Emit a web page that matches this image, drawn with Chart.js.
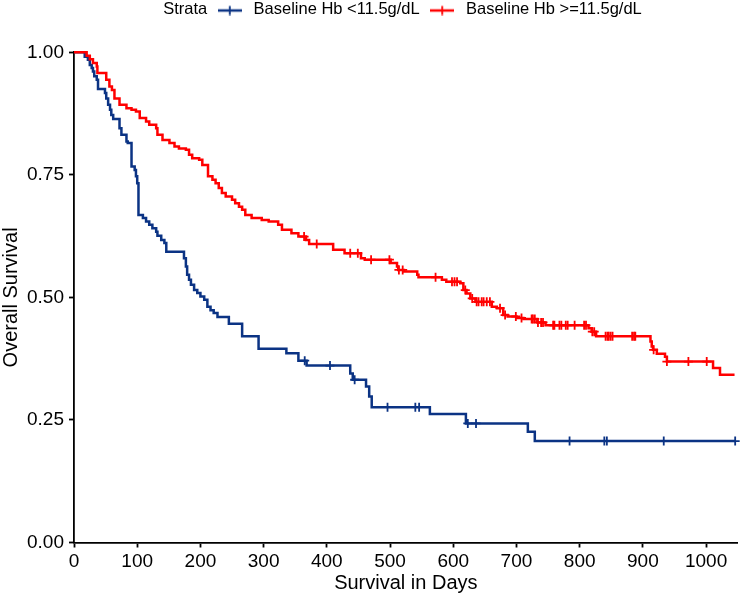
<!DOCTYPE html>
<html><head><meta charset="utf-8">
<script src="https://cdn.jsdelivr.net/npm/chart.js@4.4.1/dist/chart.umd.min.js"></script>
<style>html,body{margin:0;padding:0;background:#fff}canvas{display:block}</style>
</head><body>
<canvas id="c" width="744" height="599"></canvas>
<script>
const legendTitle = 'Strata';
const seriesNames = ['Baseline Hb <11.5g/dL', 'Baseline Hb >=11.5g/dL'];
const seriesColors = ['#0b3384', '#ff0000'];

// Low Hb group: event times (days) and survival after each step
const lowTimes = [0,17,22,25,28,30,32,36,38,49,51,54,57,59,62,72,75,83,85,91,96,98,100,102,109,114,119,124,130,132,138,143,146,174,177,179,182,185,190,195,200,206,211,216,221,227,245,266,292,336,355,368,437,441,462,467,471,563,620,718,729,1046];
const lowSurv = [1,0.991,0.985,0.974,0.968,0.961,0.951,0.944,0.925,0.917,0.906,0.893,0.883,0.872,0.864,0.845,0.832,0.818,0.815,0.767,0.760,0.747,0.733,0.668,0.662,0.655,0.648,0.641,0.634,0.626,0.617,0.611,0.593,0.580,0.563,0.546,0.536,0.526,0.515,0.509,0.502,0.495,0.481,0.474,0.468,0.460,0.446,0.421,0.395,0.386,0.371,0.361,0.345,0.332,0.318,0.298,0.276,0.262,0.243,0.226,0.207,0.207];
const lowCensor = [365,405,444,496,540,546,623,636,784,839,843,933,1046];

// High Hb group
const highTimes = [0,20,25,30,36,37,51,56,60,64,72,83,91,98,104,114,119,130,132,140,151,159,166,177,182,187,198,203,212,219,224,229,234,240,250,255,261,266,271,281,297,308,323,329,344,355,367,372,410,428,454,460,501,511,513,522,543,545,582,589,611,616,621,627,635,661,669,679,686,700,711,733,746,814,819,826,912,914,916,922,935,938,1011,1022,1045];
const highSurv = [1,0.993,0.986,0.978,0.971,0.958,0.944,0.930,0.923,0.906,0.893,0.886,0.883,0.879,0.866,0.859,0.852,0.845,0.832,0.821,0.815,0.808,0.804,0.801,0.791,0.784,0.781,0.770,0.747,0.740,0.733,0.723,0.713,0.706,0.699,0.692,0.685,0.679,0.668,0.662,0.658,0.655,0.648,0.638,0.631,0.624,0.617,0.609,0.597,0.590,0.580,0.577,0.570,0.563,0.556,0.553,0.546,0.541,0.536,0.532,0.529,0.515,0.508,0.498,0.491,0.481,0.478,0.464,0.461,0.458,0.456,0.449,0.443,0.437,0.430,0.421,0.410,0.400,0.393,0.385,0.379,0.369,0.356,0.342,0.342];
const highCensor = [364,384,437,449,470,499,514,520,572,598,602,606,619,630,637,640,645,648,653,658,674,682,699,708,724,726,729,734,739,742,758,760,768,771,778,781,792,807,810,820,823,841,844,846,849,852,883,886,888,917,938,972,1001];

const xTicks = [0,100,200,300,400,500,600,700,800,900,1000];
const yTicks = [0,0.25,0.5,0.75,1];

const FONT = "'Liberation Sans', Arial, sans-serif";

function survAt(times, surv, t) {
  let s = surv[0];
  for (let i = 0; i < times.length; i++) { if (times[i] <= t) s = surv[i]; else break; }
  return s;
}
function curve(times, surv) { return times.map((t, i) => ({x: t, y: surv[i]})); }
function marks(cens, times, surv) { return cens.map(t => ({x: t, y: survAt(times, surv, t)})); }

function makeIcon(color) {
  const c = document.createElement('canvas');
  c.width = 24; c.height = 12;
  const g = c.getContext('2d');
  if (color) {
    g.strokeStyle = color;
    g.lineWidth = 2.5;
    g.beginPath(); g.moveTo(0, 7); g.lineTo(24, 7); g.stroke();
    g.lineWidth = 1.8;
    g.beginPath(); g.moveTo(12, 2.5); g.lineTo(12, 11.5); g.stroke();
  }
  return c;
}

const legendShift = {
  id: 'legendShift',
  afterLayout(chart) {
    const lg = chart.legend;
    const w = lg.right - lg.left, h = lg.bottom - lg.top;
    lg.left = 117; lg.right = 117 + w + 200;
    lg.top = -5.75; lg.bottom = lg.top + h;
  }
};

const axisGrid = {drawOnChartArea: false, drawTicks: true, tickLength: 5, tickColor: '#000', tickWidth: 1.8};
const axisBorder = {display: true, color: '#000', width: 1.8};

new Chart(document.getElementById('c'), {
  type: 'line',
  data: {
    datasets: [
      {label: seriesNames[1] + ' censor', type: 'scatter', data: marks(highCensor, highTimes, highSurv), showLine: false,
       pointStyle: 'cross', pointRadius: 4.5, pointBorderWidth: 1.8, borderColor: seriesColors[1], backgroundColor: seriesColors[1], order: 0, clip: false},
      {label: seriesNames[1], data: curve(highTimes, highSurv), stepped: true, borderColor: seriesColors[1], borderWidth: 2.5,
       pointRadius: 0, fill: false, order: 1, clip: false},
      {label: seriesNames[0] + ' censor', type: 'scatter', data: marks(lowCensor, lowTimes, lowSurv), showLine: false,
       pointStyle: 'cross', pointRadius: 4.5, pointBorderWidth: 1.8, borderColor: seriesColors[0], backgroundColor: seriesColors[0], order: 2, clip: false},
      {label: seriesNames[0], data: curve(lowTimes, lowSurv), stepped: true, borderColor: seriesColors[0], borderWidth: 2.5,
       pointRadius: 0, fill: false, order: 3, clip: false}
    ]
  },
  options: {
    responsive: false, animation: false, devicePixelRatio: 1, events: [],
    layout: {padding: {top: 18.8, left: 0, right: 1.5, bottom: 0}},
    plugins: {
      tooltip: {enabled: false},
      legend: {
        display: true, position: 'top', align: 'start',
        labels: {
          usePointStyle: true, pointStyleWidth: 31, padding: 7,
          font: {family: FONT, size: 16.5}, color: '#000',
          generateLabels: () => [
            {text: legendTitle, pointStyle: makeIcon(null), fillStyle: 'rgba(0,0,0,0)', strokeStyle: 'rgba(0,0,0,0)', lineWidth: 0, hidden: false},
            {text: seriesNames[0], pointStyle: makeIcon(seriesColors[0]), fillStyle: seriesColors[0], strokeStyle: seriesColors[0], lineWidth: 0, hidden: false, datasetIndex: 3},
            {text: seriesNames[1], pointStyle: makeIcon(seriesColors[1]), fillStyle: seriesColors[1], strokeStyle: seriesColors[1], lineWidth: 0, hidden: false, datasetIndex: 1}
          ]
        }
      }
    },
    scales: {
      x: {
        type: 'linear', min: 0, max: 1050,
        afterBuildTicks: s => { s.ticks = xTicks.map(v => ({value: v})); },
        afterFit: s => { s.height = 56.5; },
        ticks: {autoSkip: false, maxRotation: 0, padding: 2.5, includeBounds: false, color: '#000', font: {family: FONT, size: 19}, callback: v => String(v)},
        grid: axisGrid, border: axisBorder,
        title: {display: true, text: 'Survival in Days', color: '#000', font: {family: FONT, size: 20, lineHeight: 1.2}, padding: {top: 0, bottom: 4}}
      },
      y: {
        type: 'linear', min: 0, max: 1,
        afterBuildTicks: s => { s.ticks = yTicks.map(v => ({value: v})); },
        afterFit: s => { s.width = 74; },
        ticks: {padding: 5, color: '#000', font: {family: FONT, size: 19}, callback: v => Number(v).toFixed(2)},
        grid: axisGrid, border: axisBorder,
        title: {display: true, text: 'Overall Survival', color: '#000', font: {family: FONT, size: 20, lineHeight: 1.1}, padding: {top: 0, bottom: 0}}
      }
    }
  },
  plugins: [legendShift]
});
</script>
</body></html>
